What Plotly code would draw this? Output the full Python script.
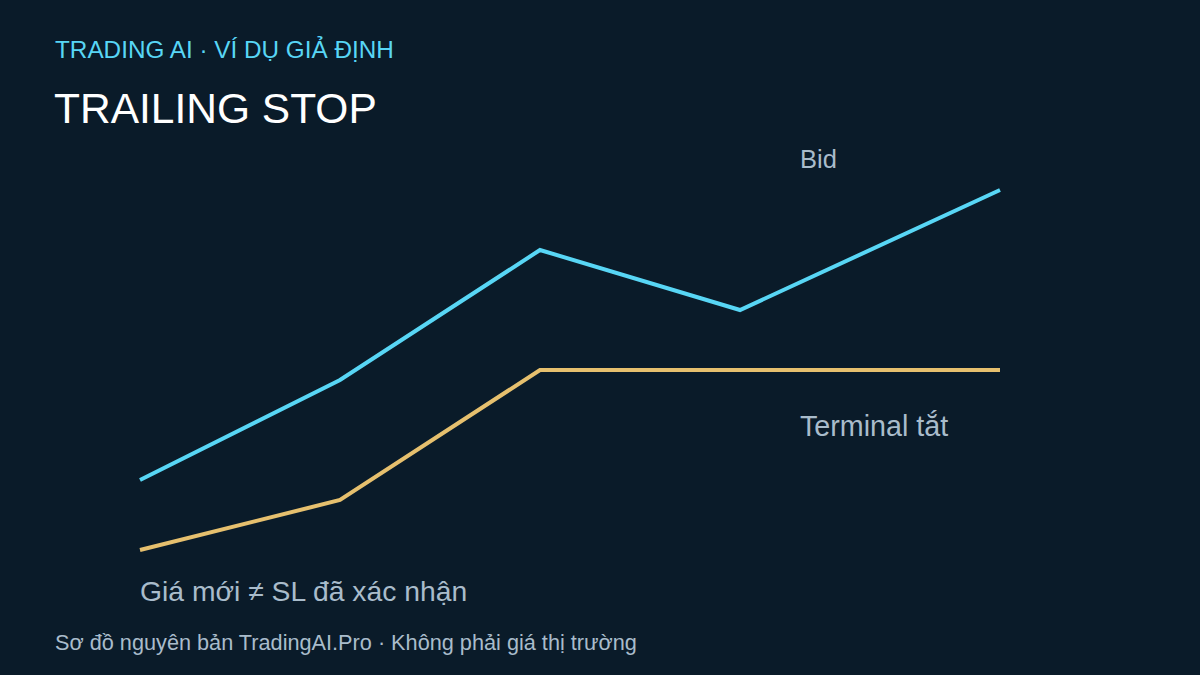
import plotly.graph_objects as go

# Data (arbitrary price units, time steps)
steps = [0, 200, 400, 600, 860]
bid = [195, 295, 425, 365, 485]
trailing_sl = [125, 175, 305, 305, 305]

W, H = 1200, 675
BG = "#0a1b29"
CYAN = "#58d6f5"
GOLD = "#e6c06e"
LABEL = "#a9bccb"
FONT = "Liberation Sans, Arial, sans-serif"

fig = go.Figure()
fig.add_trace(go.Scatter(x=steps, y=trailing_sl, mode="lines",
                         line=dict(color=GOLD, width=4), hoverinfo="skip"))
fig.add_trace(go.Scatter(x=steps, y=bid, mode="lines",
                         line=dict(color=CYAN, width=4), hoverinfo="skip"))


def px(x, y):
    return dict(x=x / W, y=1 - y / H, xref="paper", yref="paper")


annots = [
    dict(text="TRADING AI · VÍ DỤ GIẢ ĐỊNH", size=24.3, color=CYAN, pos=(53, 49)),
    dict(text="TRAILING STOP", size=42.5, color="#ffffff", pos=(52, 108)),
    dict(text="Bid", size=25.5, color=LABEL, pos=(798, 159)),
    dict(text="Terminal tắt", size=28.7, color=LABEL, pos=(798, 426)),
    dict(text="Giá mới ≠ SL đã xác nhận", size=28.3, color=LABEL, pos=(138, 591)),
    dict(text="Sơ đồ nguyên bản TradingAI.Pro · Không phải giá thị trường", size=21.7,
         color=LABEL, pos=(53, 642)),
]
for a in annots:
    fig.add_annotation(text=a["text"], showarrow=False, xanchor="left", yanchor="middle",
                       font=dict(family=FONT, size=a["size"], color=a["color"]),
                       **px(*a["pos"]))

fig.update_layout(
    width=W, height=H,
    margin=dict(l=0, r=0, t=0, b=0),
    paper_bgcolor=BG, plot_bgcolor=BG,
    showlegend=False,
    xaxis=dict(range=[-140, 1060], visible=False, fixedrange=True),
    yaxis=dict(range=[0, 675], visible=False, fixedrange=True),
)

fig.write_html("out.html", config={"displayModeBar": False})
